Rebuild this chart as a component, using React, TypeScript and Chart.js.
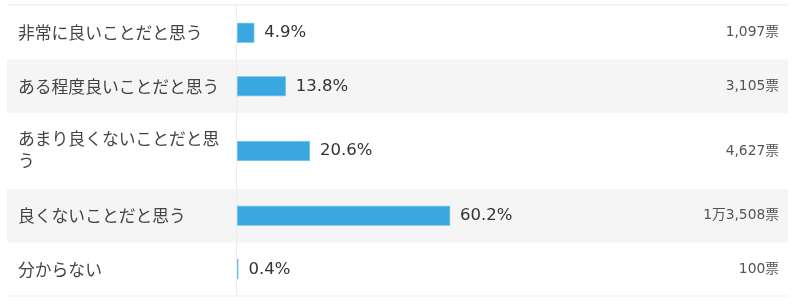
import React, { useEffect, useRef } from "react";
import { Chart, registerables } from "chart.js";

Chart.register(...registerables);

// ---- data ----
const categories: string[][] = [
  ["非常に良いことだと思う"],
  ["ある程度良いことだと思う"],
  ["あまり良くないことだと思", "う"],
  ["良くないことだと思う"],
  ["分からない"],
];
const percentages: number[] = [4.9, 13.8, 20.6, 60.2, 0.4];
const voteLabels: string[] = ["1,097票", "3,105票", "4,627票", "1万3,508票", "100票"];

const FONT = '"Noto Sans CJK JP", "Noto Sans", sans-serif';
const NUMFONT = '"DejaVu Sans", "Noto Sans CJK JP", sans-serif';

export default function App() {
  const ref = useRef<HTMLCanvasElement | null>(null);

  useEffect(() => {
    if (!ref.current) return;
    // row layout derived from number of label lines
    const rowHeights = categories.map((l) => 31 + 22.5 * l.length);
    const starts: number[] = [];
    let acc = 0;
    rowHeights.forEach((h) => {
      starts.push(acc);
      acc += h;
    });
    const total = acc;
    const centers = rowHeights.map((h, i) => starts[i] + h / 2);

    const rowsPlugin = {
      id: "rows",
      beforeDatasetsDraw(chart: any) {
        const { ctx, scales } = chart;
        const y = scales.y;
        const left = 7;
        const right = 788;
        ctx.save();
        // top strip
        ctx.fillStyle = "#f3f3f3";
        ctx.fillRect(left, y.getPixelForValue(0) - 2, right - left, 2);
        rowHeights.forEach((h, i) => {
          const t = y.getPixelForValue(starts[i]);
          const b = y.getPixelForValue(starts[i] + h);
          ctx.fillStyle = i % 2 === 1 ? "#f5f5f5" : "#ffffff";
          ctx.fillRect(left, t, right - left, b - t);
        });
        // bottom line
        ctx.fillStyle = "#ededed";
        ctx.fillRect(left, y.getPixelForValue(total) - 0.5, right - left, 1);
        // divider
        const dx = chart.chartArea.left - 1;
        ctx.fillStyle = "#ececec";
        ctx.fillRect(dx, y.getPixelForValue(0), 1, y.getPixelForValue(total) - y.getPixelForValue(0));
        ctx.restore();
      },
      afterDatasetsDraw(chart: any) {
        const { ctx, scales } = chart;
        const y = scales.y;
        const x = scales.x;
        ctx.save();
        ctx.textBaseline = "middle";
        categories.forEach((lines, i) => {
          const cy = y.getPixelForValue(centers[i]);
          // left label
          ctx.font = `16.8px ${FONT}`;
          ctx.fillStyle = "#444444";
          ctx.textAlign = "left";
          const lh = 22;
          lines.forEach((ln, k) => {
            const off = (k - (lines.length - 1) / 2) * lh - (lines.length > 1 ? 1.5 : 0);
            ctx.fillText(ln, 18, cy + off);
          });
          // percentage
          const end = x.getPixelForValue(percentages[i]);
          ctx.font = `16.5px ${NUMFONT}`;
          ctx.fillStyle = "#333333";
          ctx.fillText(percentages[i].toFixed(1) + "%", end + 10, cy);
          // votes
          ctx.font = `13.8px ${NUMFONT}`;
          ctx.fillStyle = "#555555";
          ctx.textAlign = "right";
          ctx.fillText(voteLabels[i], 779, cy);
        });
        ctx.restore();
      },
    };

    const chart = new Chart(ref.current, {
      type: "bar",
      data: {
        datasets: [
          {
            data: percentages.map((p, i) => ({ x: p, y: centers[i] })),
            backgroundColor: "#3aa8e0",
            borderColor: "#8ccbee",
            borderWidth: 1,
            borderSkipped: false,
            barThickness: 20,
          } as any,
        ],
      },
      options: {
        indexAxis: "y",
        animation: false,
        responsive: false,
        layout: { padding: { left: 237, right: 209, top: 6, bottom: 11 } },
        plugins: { legend: { display: false }, tooltip: { enabled: false } },
        scales: {
          x: { type: "linear", min: 0, max: 100, display: false, offset: false },
          y: { type: "linear", min: 0, max: total, reverse: true, display: false, offset: false },
        },
      },
      plugins: [rowsPlugin],
    });
    return () => chart.destroy();
  }, []);

  return (
    <div style={{ position: "fixed", left: 0, top: 0, width: 800, height: 307, background: "#fff" }}>
      <canvas ref={ref} width={800} height={307} style={{ display: "block" }} />
    </div>
  );
}
